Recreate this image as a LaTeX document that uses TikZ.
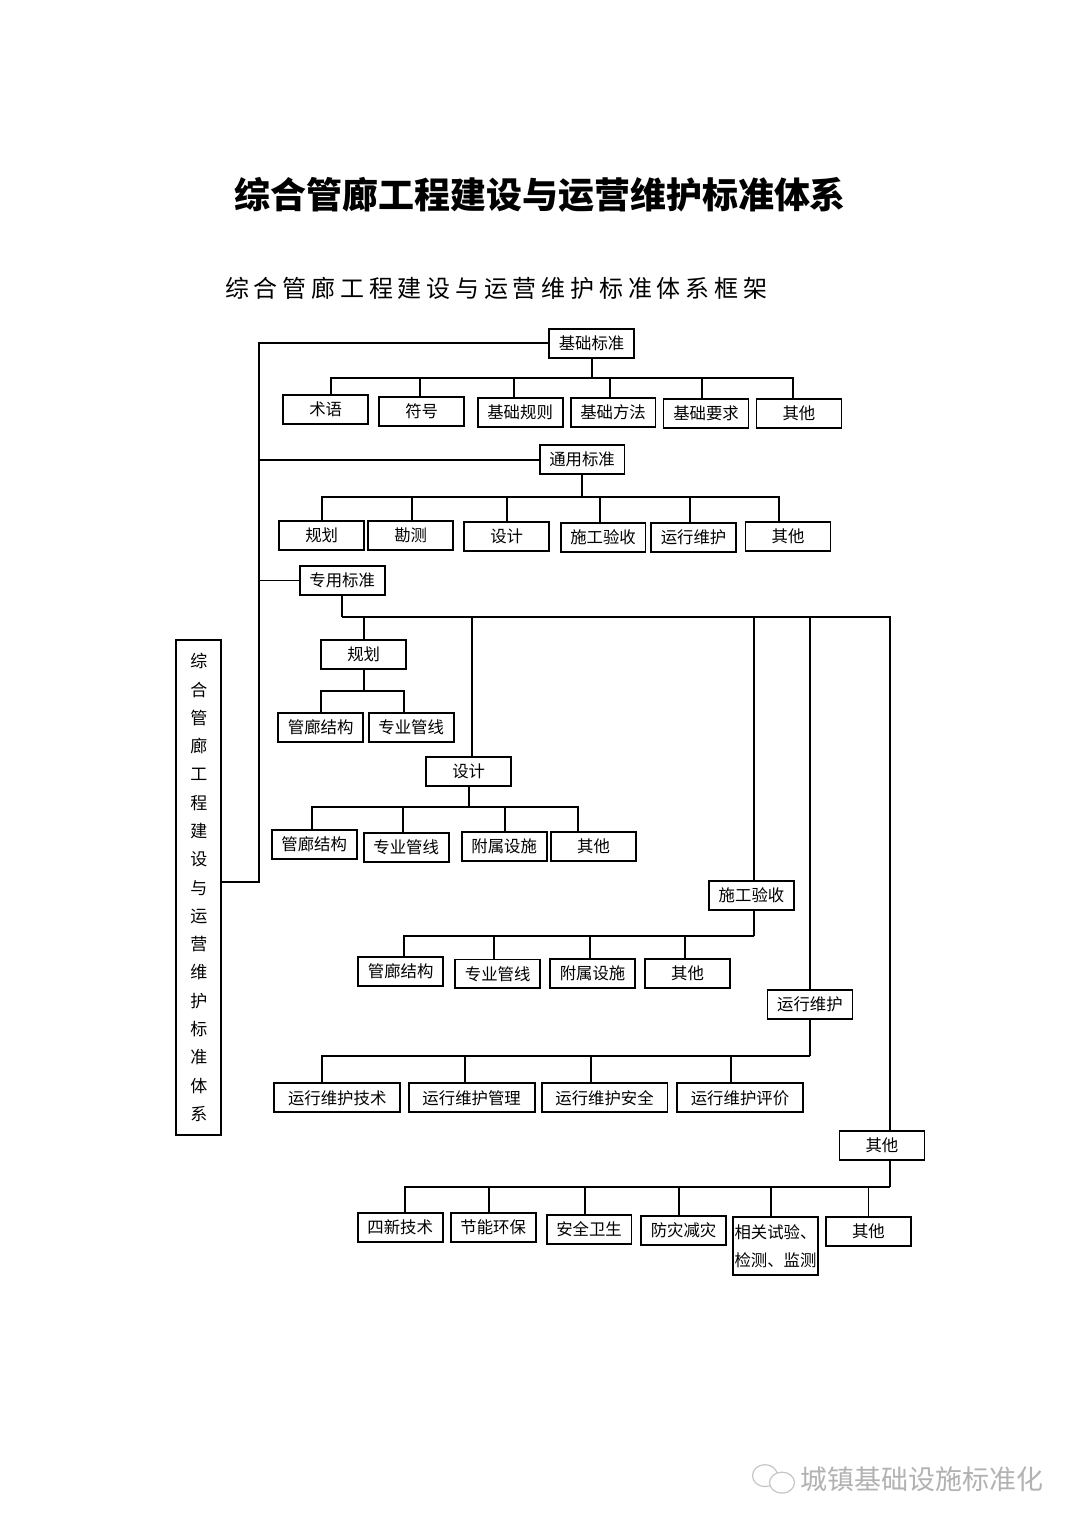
\documentclass[tikz,border=0pt]{standalone}
\usepackage{fontspec}
\setmainfont{Noto Sans CJK SC}
\newfontfamily\subfont[LetterSpace=20]{Noto Sans CJK SC}
\usepackage{tikz}

\begin{document}
\begin{tikzpicture}[x=0.5pt,y=-0.5pt,
  stdbox/.style={draw,line width=0.9pt,minimum width=42.5pt,minimum height=14.5pt,inner sep=0pt,font=\fontsize{8.2}{10}\selectfont},
  widebox/.style={stdbox,minimum width=63pt},
  conn/.style={line width=0.9pt}]
\filldraw[color=white] (0,0) rectangle (1080,1528);
% Drawing titles
\node[font=\fontsize{18}{20}\selectfont\bfseries] (title) at (540,195) {综合管廊工程建设与运营维护标准体系};
\node[font=\subfont\fontsize{12}{14}\selectfont] (subtitle) at (496,288) {综合管廊工程建设与运营维护标准体系框架};
% Left box, vertical text
\node[draw,line width=0.9pt,minimum width=22.5pt,minimum height=247.5pt,inner sep=0pt,align=center,
  font=\fontsize{8.5}{14.15}\selectfont] (sys) at (198.5,887.5)
  {综\\合\\管\\廊\\工\\程\\建\\设\\与\\运\\营\\维\\护\\标\\准\\体\\系};
% Drawing boxes
% Group 1: 基础标准
\node[stdbox] (jc) at (591.5,343) {基础标准};
\foreach \i/\x/\y/\txt in {1/325.5/409.5/术语,2/421.5/411/符号,3/520/412/基础规则,
    4/613/412.5/基础方法,5/706/413.5/基础要求,6/799/413.5/其他}
  \node[stdbox] (jc\i) at (\x,\y) {\txt};
% Group 2: 通用标准
\node[stdbox] (ty) at (582,459.5) {通用标准};
\foreach \i/\x/\y/\txt in {1/321.5/535/规划,2/410.5/535/勘测,3/506.5/536/设计,
    4/603/537/施工验收,5/693.5/537/运行维护,6/788/536/其他}
  \node[stdbox] (ty\i) at (\x,\y) {\txt};
% Group 3: 专用标准
\node[stdbox] (zy) at (342,580.5) {专用标准};
\node[stdbox] (zgh) at (363.5,654.5) {规划};
\node[stdbox] (zsj) at (468.5,771.5) {设计};
\node[stdbox] (zsg) at (751.5,895.5) {施工验收};
\node[stdbox] (zyw) at (810,1004.5) {运行维护};
\node[stdbox] (zqt) at (882,1145.5) {其他};
% Line 3a: 规划
\foreach \i/\x/\y/\txt in {1/320.5/727.5/管廊结构,2/411/727.5/专业管线}
  \node[stdbox] (gh\i) at (\x,\y) {\txt};
% Line 3b: 设计
\foreach \i/\x/\y/\txt in {1/314/844.5/管廊结构,2/406/847.5/专业管线,3/504/846.5/附属设施,4/593.5/846.5/其他}
  \node[stdbox] (sj\i) at (\x,\y) {\txt};
% Line 3c: 施工验收
\foreach \i/\x/\y/\txt in {1/400.5/971.5/管廊结构,2/497.5/974/专业管线,3/592.5/973.5/附属设施,4/687.5/973.5/其他}
  \node[stdbox] (sg\i) at (\x,\y) {\txt};
% Line 3d: 运行维护
\foreach \i/\x/\txt in {1/337/运行维护技术,2/471.5/运行维护管理,3/604.5/运行维护安全,4/740/运行维护评价}
  \node[widebox] (yw\i) at (\x,1098) {\txt};
% Line 3e: 其他
\foreach \i/\x/\y/\txt in {1/400/1227.5/四新技术,2/493/1227.5/节能环保,3/589/1229.5/安全卫生,
    4/683.5/1230.5/防灾减灾,6/868.5/1231.5/其他}
  \node[stdbox] (qt\i) at (\x,\y) {\txt};
\node[stdbox,minimum height=29pt,align=center,font=\fontsize{8.2}{14}\selectfont] (qt5) at (775.5,1246) {相关试验、\\检测、监测};
% Done with boxes; drawing connectors
\coordinate (trunk) at (259,882);
\draw[conn] (jc.west) -| (trunk) -- (sys.east |- trunk);
\draw[conn] (ty.west) -- (ty.west -| trunk);
\draw[conn] (zy.west) -- (zy.west -| trunk);
\draw[conn] (jc.south) -- ++(0,19) coordinate (jcbus);
\foreach \i/\dx in {1/2.75,2/-0.75,3/-3,4/-1.5,5/-2,6/-3}
  \draw[conn] (jcbus) -| ([xshift=\dx pt]jc\i.north);
\draw[conn] (ty.south) -- ++(0,22) coordinate (tybus);
\foreach \i/\dx in {1/0,2/0.75,3/0,4/-1.5,5/-1.75,6/-4.5}
  \draw[conn] (tybus) -| ([xshift=\dx pt]ty\i.north);
\draw[conn] (zy.south) -- ++(0,21) coordinate (zybus);
\foreach \nm/\dx in {zqt/4,zgh/0,zsj/1.75,zsg/1.25,zyw/0}
  \draw[conn] (zybus) -| ([xshift=\dx pt]\nm.north);
\draw[conn] (zgh.south) -- ++(0,21) coordinate (ghbus);
\foreach \i/\dx in {1/0,2/-3.5}
  \draw[conn] (ghbus) -| ([xshift=\dx pt]gh\i.north);
\draw[conn] (zsj.south) -- ++(0,20) coordinate (sjbus);
\foreach \i/\dx in {1/-1,2/-1.5,3/0.5,4/-7.75}
  \draw[conn] (sjbus) -| ([xshift=\dx pt]sj\i.north);
\draw[conn] ([xshift=1.25pt]zsg.south) -- ++(0,25) coordinate (sgbus);
\foreach \i/\dx in {1/1.75,2/-1.75,3/-1.25,4/-1.25}
  \draw[conn] (sgbus) -| ([xshift=\dx pt]sg\i.north);
\draw[conn] (zyw.south) -- ++(0,36) coordinate (ywbus);
\foreach \i/\dx in {1/-7.5,2/-3.25,3/-7,4/-4.5}
  \draw[conn] (ywbus) -| ([xshift=\dx pt]yw\i.north);
\draw[conn] ([xshift=4pt]zqt.south) -- ++(0,26) coordinate (qtbus);
\foreach \i/\dx in {1/2.5,2/-2,3/-2,4/-2.25,5/-2.25,6/0}
  \draw[conn] (qtbus) -| ([xshift=\dx pt]qt\i.north);
% Done with connectors; drawing the mark
\draw[gray!45,line width=0.6pt] (765,1476) ellipse [x radius=6.25pt,y radius=5.5pt];
\filldraw[gray!45,fill=white,line width=0.6pt] (782,1483) ellipse [x radius=6.25pt,y radius=5.25pt];
\node[text=gray!60,font=\fontsize{13.5}{15}\selectfont] (mark) at (922,1480) {城镇基础设施标准化};
\end{tikzpicture}
\end{document}
